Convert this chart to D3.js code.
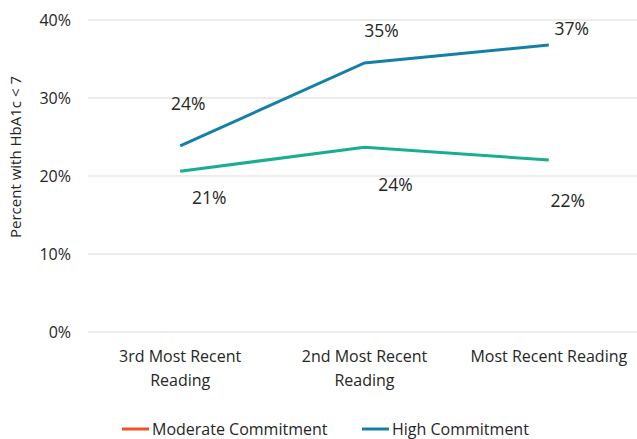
<!DOCTYPE html>
<html><head><meta charset="utf-8">
<script src="https://cdn.jsdelivr.net/npm/d3@7"></script>
<style>body{margin:0;background:#fff}svg{display:block}text{font-family:"Open Sans",sans-serif;fill:#262626}</style>
</head><body><svg id="c" width="637" height="439"></svg>
<script>
const categories = [["3rd Most Recent","Reading"],["2nd Most Recent","Reading"],["Most Recent Reading"]];
const seriesNames = ["Moderate Commitment","High Commitment"];
const moderate = [20.6, 23.7, 22.05];
const high = [23.85, 34.5, 36.8];
const moderateLabels = ["21%","24%","22%"];
const highLabels = ["24%","35%","37%"];
const yTicks = [0,10,20,30,40];

const svg = d3.select("#c");
const x = d3.scaleBand().domain(d3.range(categories.length)).range([88,641]);
const y = d3.scaleLinear().domain([0,40]).range([332,20]);
const cx = i => x(i) + x.bandwidth()/2;

// grid
svg.append("g").selectAll("line").data(yTicks).join("line")
  .attr("x1",88).attr("x2",637).attr("y1",d=>y(d)).attr("y2",d=>y(d))
  .attr("stroke","#d9d9d9").attr("stroke-width",1);

// y tick labels
svg.append("g").selectAll("text").data(yTicks).join("text")
  .attr("x",71).attr("y",d=>y(d)).attr("dy","0.35em").attr("text-anchor","end")
  .attr("font-size",16).text(d=>d+"%");

// y title
svg.append("text").attr("transform","translate(21,157) rotate(-90)")
  .attr("text-anchor","middle").attr("font-size",15).attr("fill","#404040").text("Percent with HbA1c < 7");

// category labels
const cat = svg.append("g").selectAll("text").data(categories).join("text")
  .attr("text-anchor","middle").attr("font-size",16);
cat.each(function(lines,i){
  d3.select(this).selectAll("tspan").data(lines).join("tspan")
    .attr("x",cx(i)).attr("y",(d,j)=>362+j*24).text(d=>d);
});

const line = d3.line().x((d,i)=>cx(i)).y(d=>y(d));
const colors = {mod:"#1aae91", high:"#1480a8"};
svg.append("path").datum(moderate).attr("d",line).attr("fill","none").attr("stroke",colors.mod).attr("stroke-width",3);
svg.append("path").datum(high).attr("d",line).attr("fill","none").attr("stroke",colors.high).attr("stroke-width",3);

// data labels
const highOff = [[8,-42],[17,-32],[23,-16]];
const modOff = [[29,27],[31,38],[19,41]];
svg.append("g").selectAll("text").data(high).join("text")
  .attr("x",(d,i)=>cx(i)+highOff[i][0]).attr("y",(d,i)=>y(d)+highOff[i][1]).attr("dy","0.35em")
  .attr("text-anchor","middle").attr("font-size",17.5).text((d,i)=>highLabels[i]);
svg.append("g").selectAll("text").data(moderate).join("text")
  .attr("x",(d,i)=>cx(i)+modOff[i][0]).attr("y",(d,i)=>y(d)+modOff[i][1]).attr("dy","0.35em")
  .attr("text-anchor","middle").attr("font-size",17.5).text((d,i)=>moderateLabels[i]);

// legend
const legColors = ["#f05022","#1480a8"];
const legX = [122,362];
const lg = svg.append("g").selectAll("g").data(seriesNames).join("g")
  .attr("transform",(d,i)=>`translate(${legX[i]},429)`);
lg.append("line").attr("x1",0).attr("x2",27).attr("stroke",(d,i)=>legColors[i]).attr("stroke-width",3);
lg.append("text").attr("x",30).attr("dy","0.35em").attr("font-size",16).text(d=>d);
</script></body></html>
